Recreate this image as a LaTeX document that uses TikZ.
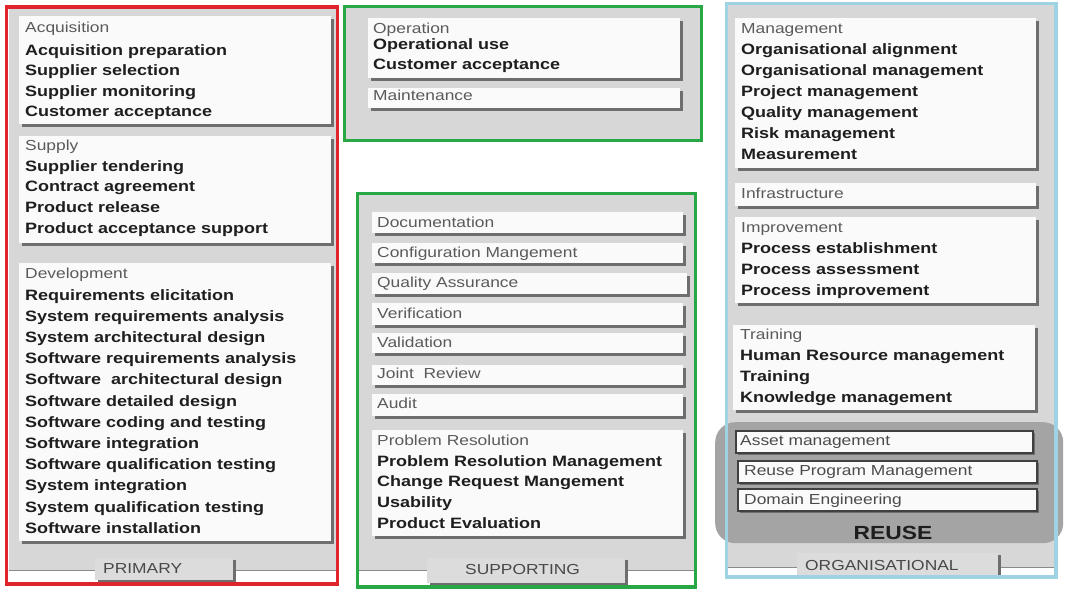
\documentclass[tikz,border=0pt]{standalone}
\usepackage{fontspec}
\setmainfont[FakeStretch=1.2]{Liberation Sans}
\usetikzlibrary{shadows}
\definecolor{redc}{HTML}{E0242B}
\definecolor{greenc}{HTML}{27A844}
\definecolor{bluec}{HTML}{9ED3E3}
\definecolor{panelc}{HTML}{D7D7D7}
\definecolor{boxc}{HTML}{FAFAFA}
\definecolor{shc}{HTML}{6E6E6E}
\definecolor{itmc}{HTML}{1E1E1E}
\definecolor{hdrc}{HTML}{5A5A5A}
\definecolor{reusec}{HTML}{A4A4A4}
\definecolor{tabc}{HTML}{DCDCDC}
\definecolor{linec}{HTML}{8A8A8A}
\tikzset{
  hdr/.style={anchor=base west, inner sep=0pt, font=\fontsize{14.5}{17}\selectfont, text=hdrc},
  itm/.style={anchor=base west, inner sep=0pt, font=\fontsize{15}{18}\selectfont\bfseries, text=itmc},
  tablabel/.style={anchor=base west, inner sep=0pt, font=\fontsize{14.5}{17}\selectfont, text=hdrc!80!black},
  wbox/.style={draw=none, fill=boxc, inner sep=0pt, anchor=north west,
    drop shadow={shadow xshift=2.5pt, shadow yshift=-2.5pt, fill=shc, opacity=1}},
  rbox/.style={wbox, draw=itmc!85, line width=1.5pt},
  tabbox/.style={draw=none, fill=tabc, inner sep=0pt, anchor=north west,
    drop shadow={shadow xshift=2.5pt, shadow yshift=-2pt, fill=shc, opacity=1}},
  panel/.style={fill=panelc, draw=none},
  frame/.style={line width=3.5pt},
  sepline/.style={draw=linec, line width=1pt},
}
% name, x1, y1, x2, y2, style
\newcommand\mkbox[6]{\node[#6, minimum width={(#4-#2)*1pt}, minimum height={(#5-#3)*1pt}] (#1) at (#2,#3) {};}
% name, x, y0, step, list
\newcommand\mklist[5]{\foreach [count=\i] \t in {#5} \node[itm] (#1-\i) at (#2,{#3+(\i-1)*#4}) {\t};}
\begin{document}
\begin{tikzpicture}[x=1pt,y=-1pt]
\useasboundingbox (0,0) rectangle (1071,600);
\fill[white] (0,0) rectangle (1071,600);

% ---------- panels ----------
\path[panel] (8.5,9) rectangle (335.5,570);
\draw[sepline] (8.5,570) -- (335.5,570);
\path[panel] (346,8) rectangle (700,139);
\path[panel] (359,195) rectangle (694,570);
\draw[sepline] (359,570) -- (694,570);
\path[panel] (728,5) rectangle (1054.5,567);
\draw[sepline] (728,567) -- (1054.5,567);

% ---------- PRIMARY ----------
\mkbox{acq}{19}{16}{331}{124}{wbox}
\node[hdr] (acq-h) at (25,32) {Acquisition};
\mklist{acq}{25}{55}{20.5}{Acquisition preparation,Supplier selection,Supplier monitoring,Customer acceptance}

\mkbox{sup}{19}{136}{331}{243}{wbox}
\node[hdr] (sup-h) at (25,150) {Supply};
\mklist{sup}{25}{171}{20.8}{Supplier tendering,Contract agreement,Product release,Product acceptance support}

\mkbox{dev}{19}{263}{331}{541}{wbox}
\node[hdr] (dev-h) at (25,278) {Development};
\mklist{dev}{25}{300}{21.2}{Requirements elicitation,System requirements analysis,System architectural design,Software requirements analysis,Software\ \ architectural design,Software detailed design,Software coding and testing,Software integration,Software qualification testing,System integration,System qualification testing,Software installation}

\mkbox{tabP}{95}{558}{233}{580}{tabbox}
\node[tablabel] (tabP-t) at (103,573) {PRIMARY};

% ---------- OPERATION / MAINTENANCE ----------
\mkbox{op}{368}{18}{680}{78}{wbox}
\node[hdr] (op-h) at (373,33) {Operation};
\mklist{op}{373}{49}{20}{Operational use,Customer acceptance}
\mkbox{mnt}{368}{88}{680}{108}{wbox}
\node[hdr] (mnt-h) at (373,100) {Maintenance};

% ---------- SUPPORTING ----------
\mkbox{doc}{372}{212}{683}{233}{wbox}
\node[hdr] (doc-h) at (377,227) {Documentation};
\mkbox{cfg}{372}{243}{683}{263}{wbox}
\node[hdr] (cfg-h) at (377,257) {Configuration Mangement};
\mkbox{qa}{372}{273}{687}{294}{wbox}
\node[hdr] (qa-h) at (377,287) {Quality Assurance};
\mkbox{ver}{372}{303}{683}{325}{wbox}
\node[hdr] (ver-h) at (377,318) {Verification};
\mkbox{val}{372}{333}{683}{353}{wbox}
\node[hdr] (val-h) at (377,347) {Validation};
\mkbox{jr}{372}{365}{683}{385}{wbox}
\node[hdr] (jr-h) at (377,378) {Joint\ \ Review};
\mkbox{aud}{372}{394}{683}{416}{wbox}
\node[hdr] (aud-h) at (377,408) {Audit};
\mkbox{pr}{372}{430}{683}{536}{wbox}
\node[hdr] (pr-h) at (377,445) {Problem Resolution};
\mklist{pr}{377}{466}{20.8}{Problem Resolution Management,Change Request Mangement,Usability,Product Evaluation}

\mkbox{tabS}{427}{558}{625}{583}{tabbox}
\node[tablabel] (tabS-t) at (465,574) {SUPPORTING};

% ---------- ORGANISATIONAL ----------
\mkbox{mgmt}{735}{18}{1036}{168}{wbox}
\node[hdr] (mgmt-h) at (741,33) {Management};
\mklist{mgmt}{741}{54}{21}{Organisational alignment,Organisational management,Project management,Quality management,Risk management,Measurement}
\mkbox{infra}{735}{183}{1036}{206}{wbox}
\node[hdr] (infra-h) at (741,198) {Infrastructure};
\mkbox{impr}{735}{217}{1036}{303}{wbox}
\node[hdr] (impr-h) at (741,232) {Improvement};
\mklist{impr}{741}{253}{21}{Process establishment,Process assessment,Process improvement}
\mkbox{trn}{733}{325}{1035}{410}{wbox}
\node[hdr] (trn-h) at (740,339) {Training};
\mklist{trn}{740}{360}{21}{Human Resource management,Training,Knowledge management}

\node[fill=reusec, draw=none, rounded corners=20pt, inner sep=0pt, anchor=north west,
  minimum width=348pt, minimum height=121pt] (reuse) at (715,422) {};
\mkbox{asset}{735}{430}{1032}{452}{rbox}
\node[hdr, text=itmc!80] (asset-h) at (740,445) {Asset management};
\mkbox{rpm}{737}{460}{1036}{482}{rbox}
\node[hdr, text=itmc!80] (rpm-h) at (744,475) {Reuse Program Management};
\mkbox{dom}{737}{488}{1036}{510}{rbox}
\node[hdr, text=itmc!80] (dom-h) at (744,504) {Domain Engineering};
\node[inner sep=0pt, font=\fontsize{19}{22}\selectfont\bfseries, text=itmc] (reuse-t) at (893,533) {REUSE};

\mkbox{tabO}{797}{553}{998}{576}{tabbox}
\node[tablabel] (tabO-t) at (805,570) {ORGANISATIONAL};

% ---------- frames ----------
\draw[frame, redc] (6.5,7) rectangle (337.5,584);
\draw[frame, greenc] (344.5,6.5) rectangle (701.5,140.5);
\draw[frame, greenc] (357.5,193.5) rectangle (695.5,587);
\draw[frame, bluec] (726.5,3.5) rectangle (1056,577);
\end{tikzpicture}
\end{document}
